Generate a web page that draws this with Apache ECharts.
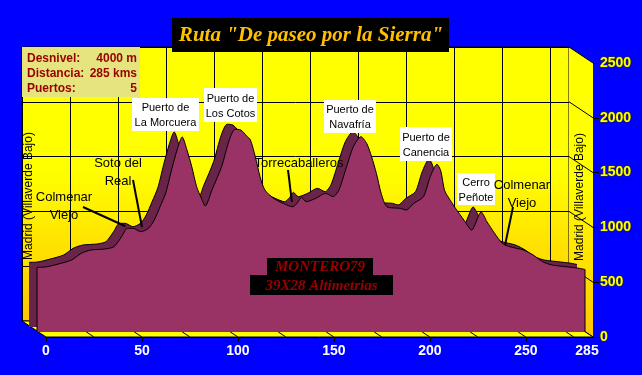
<!DOCTYPE html>
<html><head><meta charset="utf-8">
<script src="https://cdn.jsdelivr.net/npm/echarts@6/dist/echarts.min.js"></script>
<style>html,body{margin:0;padding:0;background:#0000ff}#c{width:642px;height:375px}</style>
</head><body><div id="c"></div>
<script>
// ---- data ----
const km   = [0, 4, 11, 18, 23, 28, 35, 40, 44, 47, 50, 54, 58, 61, 64, 67, 70, 73, 75.5, 78, 80.5, 83, 85.5, 87.5, 91, 96, 100, 103, 106, 109, 111, 113.5, 116, 118.5, 123, 128, 133, 135.5, 137.5, 140, 145, 150, 154, 157, 161, 164.5, 168.5, 171.5, 174, 176.5, 179, 182, 189, 192, 196, 201, 204.5, 208, 210, 212, 215, 218, 222, 226, 231, 234, 238, 242, 246, 253, 258, 263, 268, 275, 282, 285];
const elev = [590, 592, 620, 657, 718, 748, 757, 778, 870, 946, 946, 915, 946, 1022, 1143, 1270, 1480, 1670, 1780, 1660, 1508, 1326, 1220, 1150, 1296, 1508, 1752, 1850, 1843, 1790, 1752, 1600, 1417, 1296, 1220, 1174, 1143, 1180, 1229, 1189, 1220, 1265, 1235, 1296, 1508, 1690, 1782, 1720, 1600, 1448, 1265, 1143, 1128, 1113, 1174, 1235, 1417, 1530, 1470, 1290, 1200, 1120, 1022, 930, 1095, 1006, 900, 809, 778, 748, 703, 641, 611, 596, 581, 570];
const xTickLabels = [0, 50, 100, 150, 200, 250, 285];
const xTicks = [0, 50, 100, 150, 200, 250];
const yTickLabels = [0, 500, 1000, 1500, 2000, 2500];
const titleText = 'Ruta "De paseo por la Sierra"';
const infoLeft  = ['Desnivel:', 'Distancia:', 'Puertos:'];
const infoRight = ['4000 m', '285 kms', '5'];
const passNames = ['Puerto de\nLa Morcuera', 'Puerto de\nLos Cotos', 'Puerto de\nNavafría', 'Puerto de\nCanencia', 'Cerro\nPeñote'];
const townNames = ['Colmenar\nViejo', 'Soto del\nReal', 'Torrecaballeros', 'Colmenar\nViejo'];
const townKm    = [46, 54.6, 132.6, 243.4];
const townElev  = [965, 958, 1186, 790];
const endName = 'Madrid (Villaverde Bajo)';
const creditLines = ['MONTERO79', '39X28 Altimetrias'];

// ---- layout (pixels) ----
const passBoxes = [[132,98,67,33],[204,88,53,34],[324,100,52,33],[400,127,52,34],[457,173,38,32]];
const townText  = [[64,206],[118,172],[299,163],[522,194]];
const townFrom  = [[83,207],[133,180],[288,170],[513,207]];
const creditBoxes = [[267,258,106,17],[250,275,143,20]];

const FONT = '"Liberation Sans", Arial, sans-serif';
const pts = km.map((k, i) => [k, elev[i]]);
const wallGrad = {type:'linear', x:0, y:0, x2:0, y2:1, colorStops:[
  {offset:0, color:'#ffff00'}, {offset:0.45, color:'#ffff00'}, {offset:1, color:'#ffc600'}]};

const chart = echarts.init(document.getElementById('c'));
const hid = (g) => ({gridIndex:g, type:'value', min:0, max:285, show:false});
const hidY = (g) => ({gridIndex:g, type:'value', min:0, max:2500, show:false});
chart.setOption({
  animation:false,
  backgroundColor:'#0000ff',
  grid:[
    {left:22, top:47, width:547, height:274, show:true, backgroundColor:wallGrad, borderColor:'#000', borderWidth:1},
    {left:29, top:53, width:548, height:274},
    {left:37, top:58, width:548, height:274},
    {left:46, top:63, width:547, height:274}
  ],
  xAxis:[
    {gridIndex:0, type:'value', min:0, max:285, interval:25, axisLine:{show:false}, axisTick:{show:false}, axisLabel:{show:false},
     splitLine:{show:true, lineStyle:{color:'#000', width:1}}},
    hid(1), hid(2),
    {gridIndex:3, type:'value', min:0, max:285, splitLine:{show:false},
     axisLine:{show:true, onZero:false, lineStyle:{color:'#000', width:1}},
     axisTick:{show:true, customValues:xTicks, length:5, lineStyle:{color:'#000'}},
     axisLabel:{customValues:xTickLabels, color:'#fff', fontWeight:'bold', fontSize:14, fontFamily:FONT, margin:7,
       formatter:(v)=> v===285 ? '{m|285}' : String(v),
       rich:{m:{color:'#fff', fontWeight:'bold', fontSize:14, fontFamily:FONT, padding:[0,12,0,0]}}}}
  ],
  yAxis:[
    {gridIndex:0, type:'value', min:0, max:2500, interval:500, axisLine:{show:false}, axisTick:{show:false}, axisLabel:{show:false},
     splitLine:{show:true, lineStyle:{color:'#000', width:1}}},
    hidY(1), hidY(2),
    {gridIndex:3, type:'value', position:'right', min:0, max:2500, interval:500, splitLine:{show:false},
     axisLine:{show:true, onZero:false, lineStyle:{color:'rgba(0,0,0,0)'}},
     axisTick:{show:true, length:6, lineStyle:{color:'#000', width:1}},
     axisLabel:{color:'#ffff00', fontWeight:'bold', fontSize:14, fontFamily:FONT, margin:7, textBorderColor:'#3a3a00', textBorderWidth:1,
       formatter:(v)=> String(v)}}
  ],
  series:[
    {type:'line', xAxisIndex:1, yAxisIndex:1, data:pts, symbol:'none', smooth:0.25, z:2,
     lineStyle:{color:'#000', width:1}, areaStyle:{color:'#6b2449', opacity:1}},
    {type:'line', xAxisIndex:2, yAxisIndex:2, data:pts, symbol:'none', smooth:0.25, z:3,
     lineStyle:{color:'#000', width:1}, areaStyle:{color:'#993366', opacity:1}}
  ]
});

const P = (g, x, y) => chart.convertToPixel({gridIndex:g}, [x, y]);
const G = [];
const sideGrad = new echarts.graphic.LinearGradient(0,0,0,1,[{offset:0,color:'#ffff00'},{offset:0.45,color:'#ffff00'},{offset:1,color:'#ffc600'}]);
// right side wall
G.push({type:'polygon', z:1, shape:{points:[P(0,285,2500),P(3,285,2500),P(3,285,0),P(0,285,0)]}, style:{fill:sideGrad}});
yTickLabels.forEach(v => {
  const a = P(0,285,v), b = P(3,285,v);
  G.push({type:'line', z:1, shape:{x1:a[0],y1:a[1],x2:b[0],y2:b[1]}, style:{stroke:'#000', lineWidth:1}});
});
// floor
G.push({type:'polygon', z:1, shape:{points:[P(0,0,0),P(0,285,0),P(3,285,0),P(3,0,0)]}, style:{fill:'#ffff00', stroke:'#000', lineWidth:1}});
for (let k = 25; k < 285; k += 25) {
  const a = P(0,k,0), b = P(3,k,0);
  G.push({type:'line', z:1, shape:{x1:a[0],y1:a[1],x2:b[0],y2:b[1]}, style:{stroke:'#000', lineWidth:1}});
}
// front face vertical edges
[[0, elev[0]], [285, elev[elev.length-1]]].forEach(([k, e]) => {
  const a = P(2,k,0), b = P(2,k,e);
  G.push({type:'line', z:4, shape:{x1:a[0],y1:a[1],x2:b[0],y2:b[1]}, style:{stroke:'#000', lineWidth:1}});
});
// title
G.push({type:'rect', z:20, shape:{x:172, y:18, width:277, height:34}, style:{fill:'#000'}});
G.push({type:'text', z:21, x:311, y:36, style:{text:titleText, fill:'#ffc000', font:'italic bold 21px "Liberation Serif", serif', align:'center', verticalAlign:'middle'}});
// info box
G.push({type:'rect', z:20, shape:{x:22, y:47, width:118, height:50}, style:{fill:'#e6e47e'}});
infoLeft.forEach((t, i) => {
  G.push({type:'text', z:21, x:27, y:59 + i*15, style:{text:t, fill:'#990000', font:'bold 12px ' + FONT, align:'left', verticalAlign:'middle'}});
  G.push({type:'text', z:21, x:137, y:59 + i*15, style:{text:infoRight[i], fill:'#990000', font:'bold 12px ' + FONT, align:'right', verticalAlign:'middle'}});
});
// pass labels
passNames.forEach((t, i) => {
  const [x, y, w, h] = passBoxes[i];
  G.push({type:'rect', z:20, shape:{x, y, width:w, height:h}, style:{fill:'#fff'}});
  G.push({type:'text', z:21, x:x + w/2, y:y + h/2 + 1, style:{text:t, fill:'#000', font:'11px ' + FONT, lineHeight:15, align:'center', verticalAlign:'middle'}});
});
// town labels + pointers
townNames.forEach((t, i) => {
  const [cx, cy] = townText[i];
  G.push({type:'text', z:21, x:cx, y:cy, style:{text:t, fill:'#000', font:'13px ' + FONT, lineHeight:18, align:'center', verticalAlign:'middle'}});
  const tip = P(2, townKm[i], townElev[i]);
  const [fx, fy] = townFrom[i];
  G.push({type:'line', z:21, shape:{x1:fx, y1:fy, x2:tip[0], y2:tip[1]}, style:{stroke:'#000', lineWidth:2}});
});
// start / end vertical labels
G.push({type:'text', z:21, x:29, y:196, rotation:Math.PI/2, style:{text:endName, fill:'#000', font:'12px ' + FONT, align:'center', verticalAlign:'middle'}});
G.push({type:'text', z:21, x:580, y:197, rotation:Math.PI/2, style:{text:endName, fill:'#000', font:'12px ' + FONT, align:'center', verticalAlign:'middle'}});
// credit
creditLines.forEach((t, i) => {
  const [x, y, w, h] = creditBoxes[i];
  G.push({type:'rect', z:20, shape:{x, y, width:w, height:h}, style:{fill:'#000'}});
  G.push({type:'text', z:21, x:x + w/2, y:y + h/2 + 1, style:{text:t, fill:'#9a0000', font:'italic bold 15px "Liberation Serif", serif', align:'center', verticalAlign:'middle'}});
});
chart.setOption({graphic:G});
</script></body></html>
